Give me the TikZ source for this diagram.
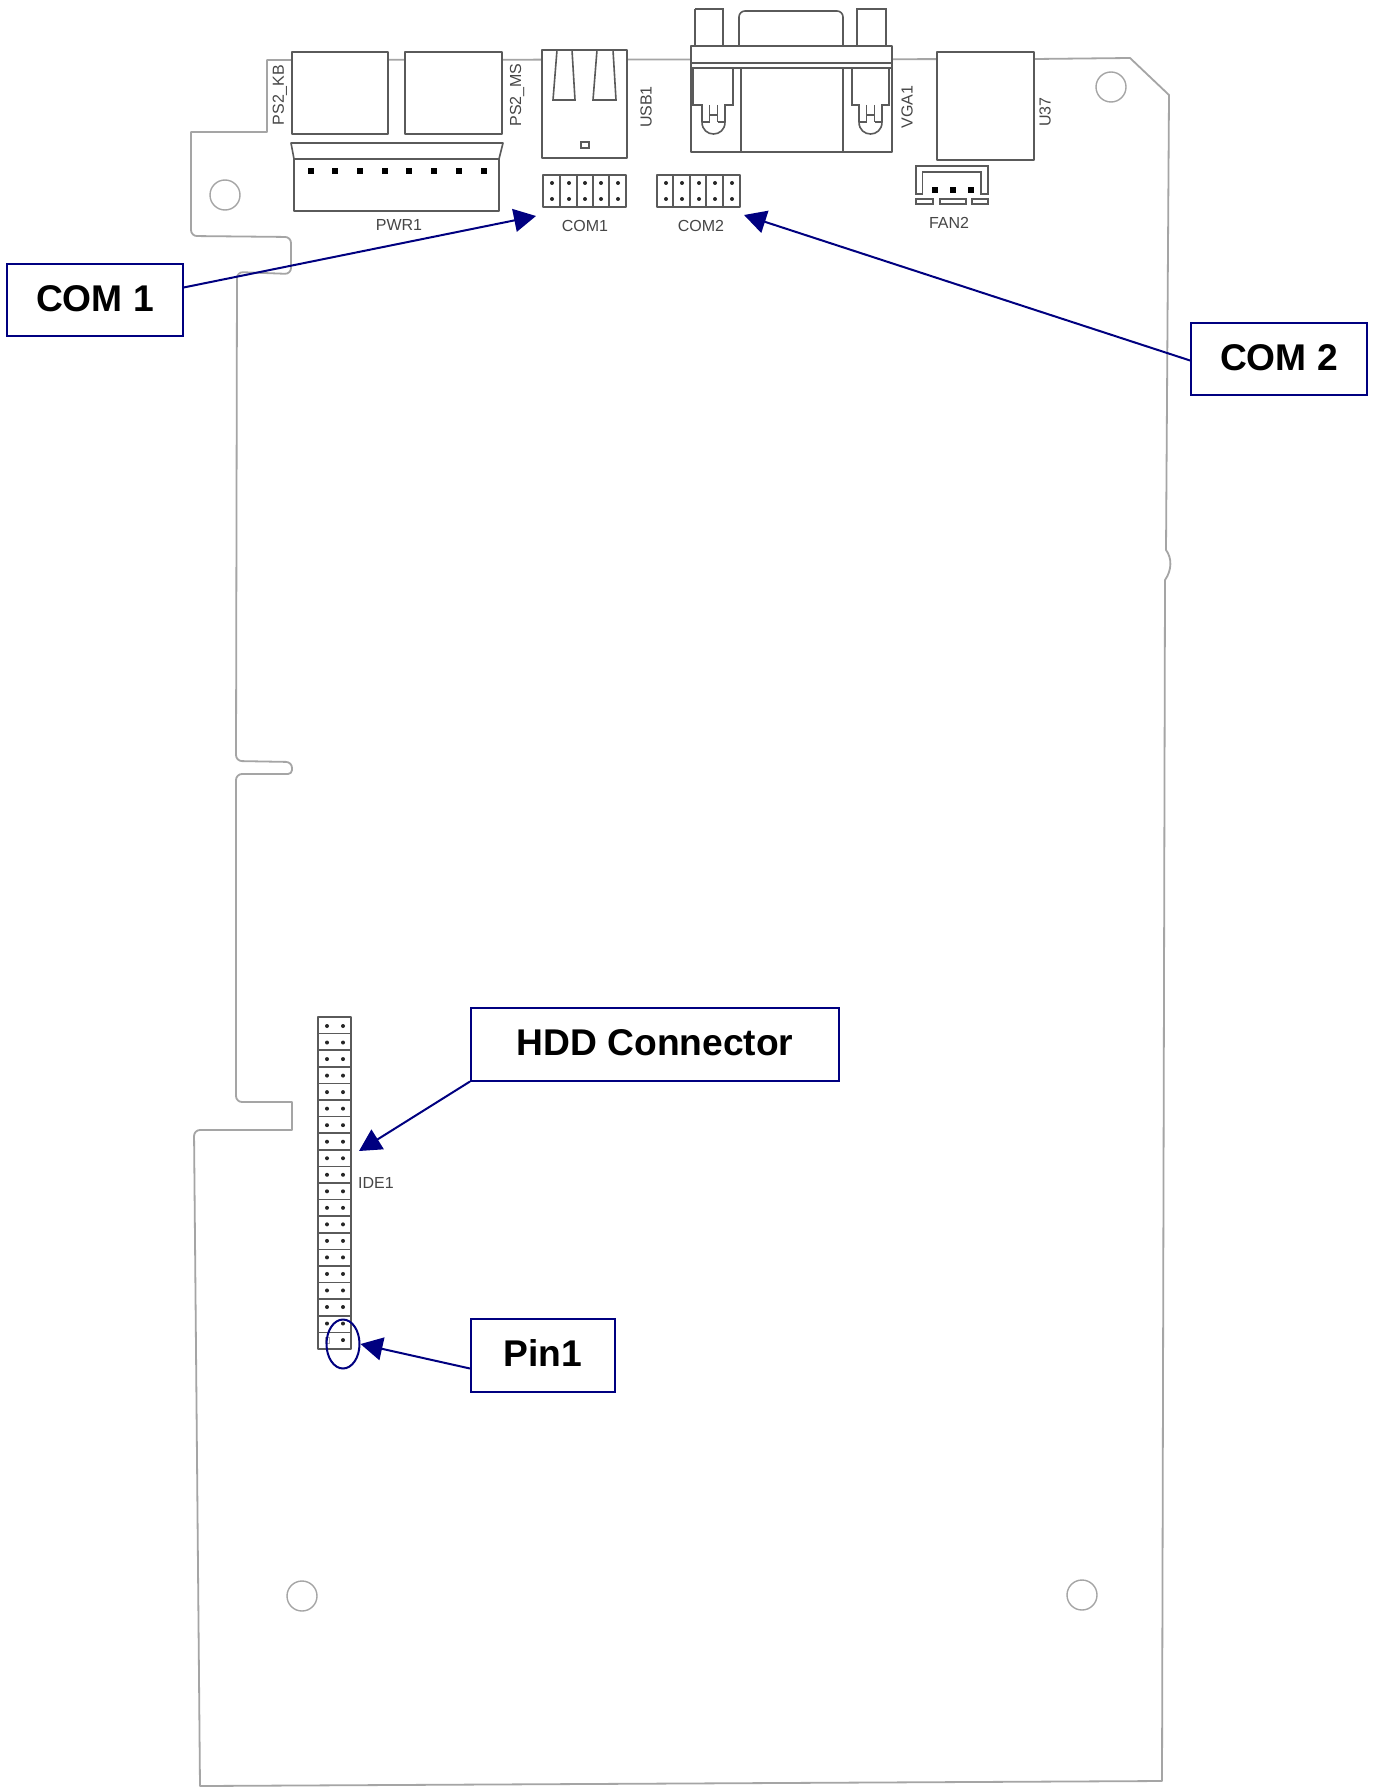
\documentclass[tikz,border=0pt]{standalone}
\usepackage{fontspec}
\setmainfont{Liberation Sans}
\usetikzlibrary{arrows.meta,calc,shapes.geometric}
\definecolor{navyline}{RGB}{0,0,128}
\definecolor{boardgray}{RGB}{165,165,165}
\definecolor{partgray}{RGB}{90,90,90}
\definecolor{labelgray}{RGB}{70,70,70}
\tikzset{
  board/.style={draw=boardgray,line width=0.9pt,line join=round},
  hole/.style={draw=boardgray,line width=0.7pt},
  part/.style={draw=partgray,line width=0.8pt,fill=white,line join=round},
  partline/.style={draw=partgray,line width=0.8pt},
  thin part/.style={draw=partgray,line width=0.65pt},
  silk/.style={font=\fontsize{8}{9}\selectfont,text=labelgray,inner sep=0pt},
  callout/.style={draw=navyline,line width=1pt,fill=white,font=\bfseries\fontsize{18.6}{21}\selectfont,text=black,inner sep=0pt,anchor=center,text height=13.4pt,text depth=2.2pt},
  pointer/.style={draw=navyline,line width=1pt,-{Triangle[length=11pt,width=11.5pt,fill=navyline]}},
  pindot/.style={fill=black!85,inner sep=0pt,minimum size=2pt,circle},
  pinsq/.style={fill=black,inner sep=0pt,minimum size=3pt},
}
\begin{document}
\begin{tikzpicture}[x=0.5pt,y=-0.5pt]
\path[use as bounding box,fill=white] (0,0) rectangle (1376,1787);
% board outline
\draw[board] (267,60) -- (267,132) -- (191,132)
  [rounded corners=3pt] -- (191,236) -- (291,237) -- (291,274) -- (237,272) -- (236,761) -- (292,762)
  [rounded corners=2pt] -- (292,774) [rounded corners=3pt] -- (236,774) -- (236,1102)
  [sharp corners] -- (292,1102) -- (292,1130) [rounded corners=3pt] -- (194,1130) [sharp corners] -- (200,1786)
  -- (1162,1781) -- (1165,580) .. controls (1172,570) and (1172,558) .. (1166,550) -- (1169,95) -- (1130,58) -- (1035,59) -- cycle;
% mounting holes
\draw[hole] (225,195) circle[radius=7.5pt];
\draw[hole] (1111,87) circle[radius=7.5pt];
\draw[hole] (302,1596) circle[radius=7.5pt];
\draw[hole] (1082,1595) circle[radius=7.5pt];
% PS/2
\draw[part] (292,52) rectangle (388,134);
\draw[part] (405,52) rectangle (502,134);
\node[silk,rotate=90] (kb) at (280,95) {PS2\_KB};
\node[silk,rotate=90] (ms) at (517,95) {PS2\_MS};
% PWR1
\draw[part] (291,143) -- (503,143) -- (499,159) -- (499,211) -- (294,211) -- (294,159) -- cycle;
\draw[partline] (294,159) -- (499,159);
\foreach \x in {311,335,360,385,409,434,459,484} \node[pinsq] at (\x,171) {};
\node[silk] (pwr) at (399,225) {PWR1};
% USB1
\draw[part] (542,50) rectangle (627,158);
\draw[partline] (557,50) -- (553,100) -- (575,100) -- (572,50);
\draw[partline] (597,50) -- (593,100) -- (616,100) -- (613,50);
\draw[partline] (581,142) rectangle (589,148);
\node[silk,rotate=90] (usb) at (646,107) {USB1};
% COM1
\draw[part] (543,175) rectangle (626,207);
\foreach \x in {560,577,593,609} \draw[thin part] (\x,175) -- (\x,207);
\foreach \x in {552,569,585,601,618} {\node[pindot] at (\x,183) {}; \node[pindot] at (\x,199) {};}
\node[silk] (c1l) at (585,226) {COM1};
% COM2
\draw[part] (657,175) rectangle (740,207);
\foreach \x in {673,690,706,723} \draw[thin part] (\x,175) -- (\x,207);
\foreach \x in {666,682,699,715,732} {\node[pindot] at (\x,183) {}; \node[pindot] at (\x,199) {};}
\node[silk] (c2l) at (701,226) {COM2};
% VGA1
\draw[partline] (695,46) -- (695,9) (695,9) -- (723,9) -- (723,46);
\draw[partline] (857,46) -- (857,9) -- (886,9) -- (886,46);
\draw[partline,rounded corners=3pt] (739,46) -- (739,11) -- (843,11) -- (843,46);
\draw[part] (691,46) rectangle (892,152);
\draw[partline] (691,63) -- (892,63) (691,68) -- (892,68);
\draw[partline] (741,68) -- (741,152) (843,68) -- (843,152);
\foreach \a/\b/\c/\d in {693/733/702/725,852/889/859/882}{
  \draw[partline] (\a,68) -- (\a,105) -- (\c,105) -- (\c,122) .. controls (\c,138) and (\d,138) .. (\d,122) -- (\d,105) -- (\b,105) -- (\b,68);
  \draw[thin part] ({(\c+\d)/2-4},105) -- ({(\c+\d)/2-4},122) ({(\c+\d)/2+4},105) -- ({(\c+\d)/2+4},122) ({(\c+\d)/2-4},115) -- ({(\c+\d)/2+4},115) (\c,122) -- ({(\c+\d)/2-4},122) ({(\c+\d)/2+4},122) -- (\d,122);
}
\node[silk,rotate=90] (vga) at (907,107) {VGA1};
% U37
\draw[part] (937,52) rectangle (1034,160);
\node[silk,rotate=90] (u37) at (1045,112) {U37};
% FAN2
\draw[partline] (916,194) -- (916,166) -- (988,166) -- (988,194) -- (981,194) -- (981,172) -- (922.5,172) -- (922.5,194) -- cycle;
\foreach \x in {935,953,971} \node[pinsq] at (\x,190) {};
\draw[thin part] (916,199) rectangle (933,204);
\draw[thin part] (940,199) rectangle (966,204);
\draw[thin part] (972,199) rectangle (988,204);
\node[silk] (fan) at (949,223) {FAN2};
% IDE1
\draw[part] (318,1017) rectangle (351,1349);
\foreach \i in {1,...,19} \draw[partline] (318,{1017+\i*16.6}) -- (351,{1017+\i*16.6});
\foreach \i in {0,...,18} \node[pindot] at (327,{1026+\i*16.53}) {};
\foreach \i in {0,...,19} \node[pindot] at (343,{1026+\i*16.53}) {};
\draw[draw=partgray!50,line width=0.4pt] (325,1337) rectangle (329,1343);
\node[silk] (ide) at (376,1183) {IDE1};
% pin 1 ring
\node[draw=navyline,line width=1pt,ellipse,minimum width=16.5pt,minimum height=24.5pt,inner sep=0pt] (ring) at (343,1344) {};
% callouts
\node[callout,minimum width=88pt,minimum height=36pt] (com1) at (95,300) {COM 1};
\node[callout,minimum width=88pt,minimum height=36pt] (com2) at (1279,359) {COM 2};
\node[callout,minimum width=184pt,minimum height=36.5pt] (hdd) at (655,1044) {HDD Connector};
\node[callout,minimum width=72pt,minimum height=36.5pt] (pin) at (543,1355) {Pin1};
\coordinate (com1tip) at (536,216);
\coordinate (com2tip) at (744,215);
\coordinate (hddtip) at (359,1151);
\draw[pointer] ($(com1.north east)!0.33!(com1.south east)$) -- (com1tip);
\draw[pointer] ($(com2.north west)!0.52!(com2.south west)$) -- (com2tip);
\draw[pointer] (hdd.south west) -- (hddtip);
\draw[pointer] ($(pin.north west)!0.68!(pin.south west)$) -- (ring.east);
\end{tikzpicture}
\end{document}
